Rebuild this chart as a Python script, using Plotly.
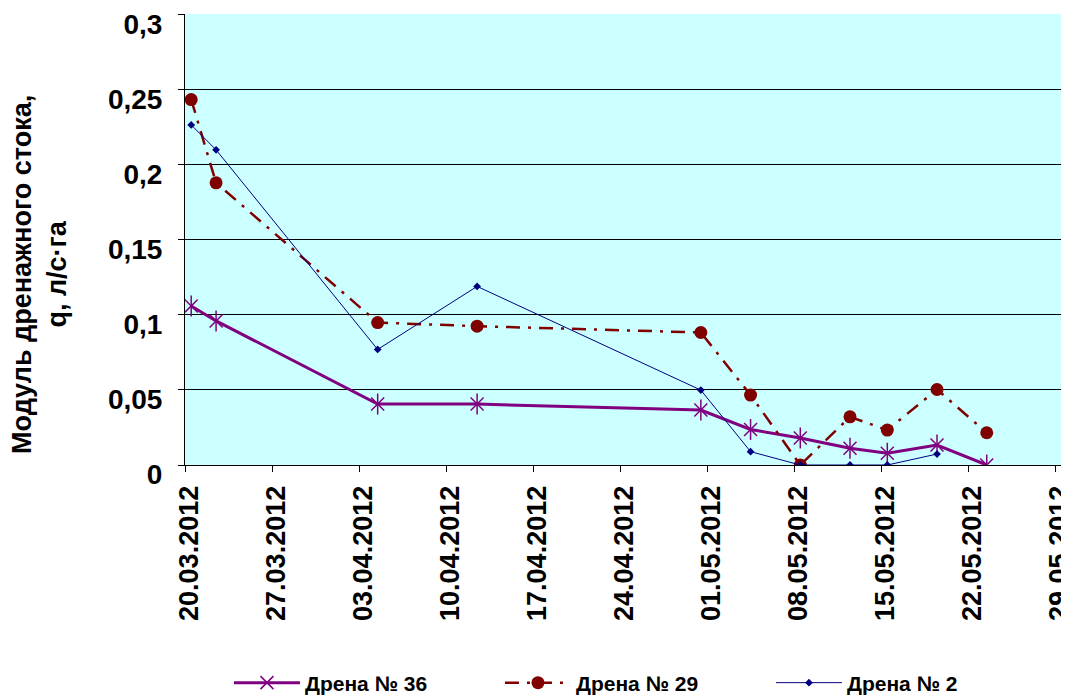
import plotly.graph_objects as go
import pandas as pd

dates_36 = ["2012-03-20", "2012-03-22", "2012-04-04", "2012-04-12", "2012-04-30", "2012-05-04",
            "2012-05-08", "2012-05-12", "2012-05-15", "2012-05-19", "2012-05-23"]
vals_36 = [0.106, 0.096, 0.0406, 0.0406, 0.0366, 0.0237, 0.018, 0.0111, 0.0078, 0.0133, 0.0]

dates_29 = ["2012-03-20", "2012-03-22", "2012-04-04", "2012-04-12", "2012-04-30", "2012-05-04",
            "2012-05-08", "2012-05-12", "2012-05-15", "2012-05-19", "2012-05-23"]
vals_29 = [0.2435, 0.188, 0.0949, 0.0925, 0.0883, 0.0466, 0.0, 0.0321, 0.0233, 0.0503, 0.0215]

dates_2 = ["2012-03-20", "2012-03-22", "2012-04-04", "2012-04-12", "2012-04-30", "2012-05-04",
           "2012-05-08", "2012-05-12", "2012-05-15", "2012-05-19"]
vals_2 = [0.2266, 0.21, 0.077, 0.119, 0.0499, 0.0089, 0.0, 0.0, 0.0, 0.0073]

names = ["Дрена № 36", "Дрена № 29", "Дрена № 2"]
y_ticks = [0, 0.05, 0.1, 0.15, 0.2, 0.25, 0.3]
y_ticktext = ["0", "0,05", "0,1", "0,15", "0,2", "0,25", "0,3"]
x_ticks = ["2012-03-20", "2012-03-27", "2012-04-03", "2012-04-10", "2012-04-17", "2012-04-24",
           "2012-05-01", "2012-05-08", "2012-05-15", "2012-05-22", "2012-05-29"]
y_title = "Модуль дренажного стока,<br>q, л/с·га"

# Excel date axis plots points between tick marks (middle of the day)
half_day = pd.Timedelta(hours=12)
def mid(ds):
    return [pd.Timestamp(d) + half_day for d in ds]

FONT = "Liberation Sans, Arial, sans-serif"
PURPLE, MAROON, NAVY = "#800080", "#800000", "#000080"

# page has an 8px body margin; compensate in the figure margins
OFF = 8
W, H = 1069, 698
ML, MT, MB, MR = 185 - OFF, 14 - OFF, H - 465 + OFF, 0
PW = W - ML - MR            # plot width in px
PH = H - MT - MB            # plot height in px

def px_x(p):  # page pixel -> paper x
    return (p - 185) / PW
def px_y(p):  # page pixel -> paper y
    return (465 - p) / PH

fig = go.Figure()
fig.add_trace(go.Scatter(
    x=mid(dates_36), y=vals_36, name=names[0], mode="lines+markers", legendgroup="36",
    line=dict(color=PURPLE, width=3),
    marker=dict(symbol="x-thin-open", size=13, color=PURPLE, line=dict(color=PURPLE, width=1.5)),
))
fig.add_trace(go.Scatter(
    x=mid(dates_36), y=vals_36, name=names[0], mode="markers", legendgroup="36", showlegend=False,
    marker=dict(symbol="line-ns-open", size=15, color=PURPLE, line=dict(color=PURPLE, width=1.5)),
    hoverinfo="skip",
))
fig.add_trace(go.Scatter(
    x=mid(dates_29), y=vals_29, name=names[1], mode="lines+markers",
    line=dict(color=MAROON, width=2.5, dash="14px,8px,3px,8px"),
    marker=dict(symbol="circle", size=13, color=MAROON),
))
fig.add_trace(go.Scatter(
    x=mid(dates_2), y=vals_2, name=names[2], mode="lines+markers",
    line=dict(color=NAVY, width=1),
    marker=dict(symbol="diamond", size=6, color=NAVY),
))

# x range: 20.03 at page x=185, 12.43 px per day
days_span = PW / 12.43
x_end = pd.Timestamp("2012-03-20") + pd.Timedelta(days=days_span)

fig.update_layout(
    width=W, height=H,
    margin=dict(l=ML, r=MR, t=MT, b=MB),
    paper_bgcolor="white", plot_bgcolor="#CCFFFF",
    font=dict(family=FONT, color="black"),
    showlegend=True,
    legend=dict(
        orientation="h", xref="paper", x=0.505, xanchor="center",
        yref="paper", y=px_y(683), yanchor="middle",
        font=dict(size=21, family=FONT, weight="bold"),
        entrywidth=190, itemwidth=66, bgcolor="rgba(0,0,0,0)",
    ),
    annotations=[dict(
        text=y_title, textangle=-90, showarrow=False,
        xref="paper", yref="paper", x=px_x(39), y=px_y(275),
        xanchor="center", yanchor="middle",
        font=dict(size=27, family=FONT, weight="bold", color="black"),
    )],
)
fig.update_xaxes(
    type="date", automargin=False,
    range=[pd.Timestamp("2012-03-20"), x_end],
    tickvals=[pd.Timestamp(d) for d in x_ticks],
    ticktext=[pd.Timestamp(d).strftime("%d.%m.%Y") for d in x_ticks],
    tickangle=-90, ticks="outside", ticklen=6, tickcolor="black",
    tickfont=dict(size=27, family=FONT, weight="bold"),
    ticklabeloverflow="allow", ticklabelstandoff=3, ticklabelshift=4,
    showgrid=False, showline=True, linecolor="black", linewidth=1, zeroline=False,
)
fig.update_yaxes(
    range=[0, 0.3005], tickvals=y_ticks, ticktext=y_ticktext, automargin=False,
    ticks="outside", ticklen=6, tickcolor="black",
    tickfont=dict(size=28, family=FONT, weight="bold"),
    ticklabeloverflow="allow", ticklabelstandoff=10, ticklabelshift=9,
    showgrid=True, gridcolor="black", gridwidth=1,
    showline=True, linecolor="black", linewidth=1, zeroline=False,
)

fig.write_html("out.html")
